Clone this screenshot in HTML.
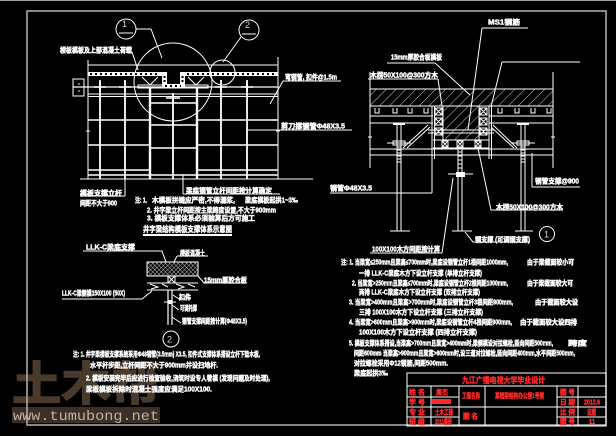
<!DOCTYPE html>
<html><head><meta charset="utf-8">
<style>
html,body{margin:0;padding:0;background:#000;}
svg{display:block;}
.t{fill:#fff;stroke:#fff;stroke-width:0.45px;font-size:7px;font-family:"Liberation Sans","Noto Sans CJK SC",sans-serif;font-weight:bold;}
.r{fill:#ff2a2a;stroke:#ff2a2a;stroke-width:0.4px;font-size:7px;font-family:"Liberation Sans","Noto Sans CJK SC",sans-serif;font-weight:bold;}
.n{fill:#ddd;font-size:9px;font-family:"Liberation Sans",sans-serif;}
</style></head><body>
<svg width="616" height="436" viewBox="0 0 616 436" xmlns="http://www.w3.org/2000/svg">
<defs>
<pattern id="hs" width="7" height="7" patternUnits="userSpaceOnUse" patternTransform="rotate(45)">
<line x1="0" y1="0" x2="0" y2="7" stroke="#fff" stroke-width="0.8"/>
</pattern>
<pattern id="hx" width="3" height="3" patternUnits="userSpaceOnUse" patternTransform="rotate(45)">
<line x1="0" y1="0" x2="0" y2="3" stroke="#fff" stroke-width="0.7"/>
<line x1="0" y1="0" x2="3" y2="0" stroke="#fff" stroke-width="0.7"/>
</pattern>
</defs>
<rect width="616" height="436" fill="#000"/>

<!-- watermark -->
<text x="12" y="400" font-size="46" textLength="148" lengthAdjust="spacingAndGlyphs" fill="#4a3a2c" stroke="#4a3a2c" stroke-width="1.5" font-family="Noto Sans CJK SC,sans-serif" font-weight="bold">土木帮</text>
<rect x="12" y="407" width="148" height="16" fill="#3c2f25"/>
<text x="13" y="420" font-size="14" textLength="146" lengthAdjust="spacingAndGlyphs" fill="#bdb3a8" font-family="Liberation Mono,monospace">www.tumubong.net</text>

<!-- frames -->
<rect x="0" y="0" width="616" height="1" fill="#a0a0a0"/>
<rect x="27" y="11" width="579" height="414" fill="none" stroke="#b4b4b4" stroke-width="1.5"/>

<!-- ============ LEFT ELEVATION ============ -->
<g stroke="#fff" fill="none" stroke-width="1">
<circle cx="126" cy="29" r="10"/>
<line x1="119" y1="33" x2="133" y2="33"/>
<circle cx="249" cy="30" r="10"/>
<line x1="242" y1="34" x2="256" y2="34"/>
<polyline points="136,29 151,29 162,58"/>
<line x1="241" y1="37" x2="223" y2="62"/>
<circle cx="173" cy="82" r="39"/>
<circle cx="222.5" cy="72.5" r="12.5"/>
<line x1="132" y1="52" x2="138" y2="70"/>
<path d="M88 65H278M88 60V179M278 57V179"/>
<rect x="73" y="79" width="11" height="17"/>
<path d="M73 87H278" stroke-width="1.2"/>
<rect x="138" y="85" width="70" height="3"/>
<path d="M88 94H278M88 96.5H278"/>
<path d="M142 77L150 85L158 77M188 77L196 85L204 77"/>
<path d="M100 80V179M125 80V179M221 80V179M247 80V179M173 96V179" stroke-width="1.8"/>
<path d="M150 88V179M197 88V179" stroke-width="2.4"/>
<path d="M94 87H106M119 87H131M215 87H227M241 87H253M166 98H180" stroke-width="1.5"/>
<path d="M100 83V91M125 83V91M221 83V91M247 83V91M173 93V103" stroke-width="2"/>
<path d="M88 120H150M197 120H278M88 145H150M197 145H278M88 170H150M197 170H278M88 175H278" stroke-width="1.6"/>
<path d="M150 103H197M150 125H197M150 148H197" stroke-width="1.6"/>
<path d="M80 179H313"/>
<path d="M86 131H90M88 129V133M276 131H280M278 129V133"/>
<path d="M283 81H341M283 81L270 104M247 130H352"/>
<path d="M80 196H125M125 179V196M183 194H280M183 175V194"/>
</g>
<!-- formwork band -->
<g fill="#fff">
<rect x="88" y="72" width="74" height="4"/>
<rect x="185" y="72" width="93" height="4"/>
<rect x="162" y="72" width="5" height="16"/>
<rect x="180" y="72" width="5" height="16"/>
<rect x="162" y="84" width="23" height="4"/>
<circle cx="79" cy="84" r="0.8"/><circle cx="79" cy="91" r="0.8"/>
</g>
<g stroke="#000" stroke-width="2" fill="none">
<path d="M90 74H160M187 74H276M165 86H181" stroke-dasharray="2 3"/>
<path d="M164.5 76V84M182.5 76V84" stroke-dasharray="2 2"/>
</g>
<text class="n" x="122" y="27">1</text>
<text class="n" x="245" y="28">2</text>

<text class="t" x="60" y="52.5" textLength="72" lengthAdjust="spacingAndGlyphs">楼板模板及上部混凝土荷载</text>
<text class="t" x="285" y="79.5" textLength="52" lengthAdjust="spacingAndGlyphs">弯钢管, 扣件@1.5m</text>
<text class="t" x="281" y="128.5" textLength="64" lengthAdjust="spacingAndGlyphs">剪刀撑钢管Φ48X3.5</text>
<text class="t" x="80" y="195.5" textLength="42" lengthAdjust="spacingAndGlyphs">模板支撑立杆</text>
<text class="t" x="80" y="205.5" textLength="37" lengthAdjust="spacingAndGlyphs">间距不大于900</text>
<text class="t" x="186" y="193" textLength="86" lengthAdjust="spacingAndGlyphs">梁底钢管立杆间距按计算确定</text>
<text class="t" x="135" y="202.5" textLength="12" lengthAdjust="spacingAndGlyphs">注: 1.</text>
<text class="t" x="152" y="202.5" textLength="83" lengthAdjust="spacingAndGlyphs">木模板拼缝应严密,不得漏浆,</text>
<text class="t" x="245" y="202.5" textLength="53" lengthAdjust="spacingAndGlyphs">梁底模板起拱1~3‰</text>
<text class="t" x="147" y="212.5" textLength="129" lengthAdjust="spacingAndGlyphs">2. 井字梁立杆间距按主梁跨度设置,不大于900mm</text>
<text class="t" x="147" y="220.5" textLength="108" lengthAdjust="spacingAndGlyphs">3. 模板支撑体系必须验算后方可施工</text>
<text class="t" x="143" y="232" textLength="89" lengthAdjust="spacingAndGlyphs" style="font-size:8px">井字梁结构模板支撑体系示意图</text>
<rect x="143" y="234" width="89" height="2" fill="#fff"/>

<!-- ============ DETAIL 2 ============ -->
<g stroke="#fff" fill="none" stroke-width="1">
<rect x="147" y="262" width="51" height="14" fill="url(#hx)"/>
<rect x="168" y="276" width="7" height="7"/>
<path d="M168 276L175 283M175 276L168 283"/>
<path d="M147 283H198M147 290H198"/>
<path d="M150 284L158 287L151 289M162 284L168 287M176 284L184 287L178 289M188 284L195 287"/>
<path d="M168 290V325M172 290V325" stroke-width="1.2"/>
<path d="M164 302H176"/>
<path d="M83 251H162L166 262M177 256H208M177 256L174 262M198 276L204 283H247M62 299H142L152 291"/>
<path d="M173 295L179 299H191M172 305L179 310M172 317L181 323"/>
<circle cx="171" cy="339" r="8"/>
</g>
<rect x="168" y="300" width="4" height="4" fill="#fff"/>
<text class="n" x="167" y="342.5">2</text>
<text class="t" x="86" y="249.5" textLength="49" lengthAdjust="spacingAndGlyphs">LLK-C梁底支撑</text>
<text class="t" x="180" y="255.5" textLength="25" lengthAdjust="spacingAndGlyphs">楼板混凝土</text>
<text class="t" x="204" y="282.5" textLength="43" lengthAdjust="spacingAndGlyphs">15mm厚胶合板</text>
<text class="t" x="62" y="295.5" textLength="63" lengthAdjust="spacingAndGlyphs">LLK-C梁侧模150X100 (50X)</text>
<text class="t" x="179" y="299.5" textLength="12" lengthAdjust="spacingAndGlyphs">扣件</text>
<text class="t" x="180" y="310.5" textLength="17" lengthAdjust="spacingAndGlyphs">可调托撑</text>
<text class="t" x="182" y="323.5" textLength="65" lengthAdjust="spacingAndGlyphs">钢管支撑间距按计算(Φ48X3.5)</text>

<text class="t" x="73" y="356.5" textLength="187" lengthAdjust="spacingAndGlyphs">注: 1. 井字梁楼板支撑系统采用Φ48钢管(3.5mm) X3.5, 扣件式支撑体系搭设立杆下垫木板,</text>
<text class="t" x="90" y="367.5" textLength="128" lengthAdjust="spacingAndGlyphs">水平杆步距,立杆间距不大于900mm并设扫地杆.</text>
<text class="t" x="86" y="380.5" textLength="184" lengthAdjust="spacingAndGlyphs">2. 模板安装完毕后应进行检查验收,浇筑时设专人看模 (发现问题及时处理),</text>
<text class="t" x="86" y="391.5" textLength="126" lengthAdjust="spacingAndGlyphs">梁板模板拆除时混凝土强度应满足100X100.</text>

<!-- ============ RIGHT SECTION ============ -->
<g stroke="#fff" fill="none" stroke-width="1">
<rect x="370" y="89" width="183" height="17" fill="url(#hs)"/>
<rect x="443" y="106" width="36" height="34" fill="url(#hs)"/>
<path d="M370 116H433M489 116H553M370 123H433M489 123H553"/>
<path d="M375 108V113H379V108M393 108V113H397V108M408 108V113H412V108M424 108V113H428V108M498 108V113H502V108M515 108V113H519V108M531 108V113H535V108M547 108V113H551V108"/>
<path d="M370 72V168M553 72V168M368 137H372M551 137H555"/>
<path d="M432 106V159M434.5 106V159M489 106V159M491.5 106V159"/>
<path d="M435 108H442V115H435ZM435 108L442 115M442 108L435 115M435 118H442V125H435ZM435 118L442 125M442 118L435 125M435 128H442V135H435ZM435 128L442 135M442 128L435 135"/>
<path d="M480 108H487V115H480ZM480 108L487 115M487 108L480 115M480 118H487V125H480ZM480 118L487 125M487 118L480 125M480 128H487V135H480ZM480 128L487 135M487 128L480 135"/>
<path d="M428 130H494M428 133H494"/>
<path d="M433 140H489M433 148H489"/>
<path d="M442 141H448V147H442ZM442 141L448 147M448 141L442 147M457 141H463V147H457ZM457 141L463 147M463 141L457 147M475 141H481V147H475ZM475 141L481 147M481 141L475 147"/>
<path d="M370 149H553M370 155H553"/>
<!-- props -->
<path d="M393 124H405M517 124H529" stroke-width="2"/>
<path d="M397 125V231M401 125V231M521 125V231M525 125V231"/>
<rect x="393" y="141" width="12" height="4"/>
<rect x="517" y="141" width="12" height="4"/>
<path d="M387 143H411M511 143H535"/>
<path d="M397 147H401M397 150H401M397 153H401M397 156H401M397 159H401M397 162H401M521 147H525M521 150H525M521 153H525M521 156H525M521 159H525M521 162H525"/>
<path d="M458 148V172M462 148V172M458 152H462M458 156H462M458 160H462M458 164H462M458 168H462"/>
<path d="M448 174H473"/>
<path d="M458 177V231M462 177V231"/>
<path d="M390 231H410M452 231H472M515 231H533"/>
<path d="M403 148L428 125M407 148L430 127M493 125L517 148M491 127L514 148"/>
<!-- leaders -->
<path d="M482 28H528M482 28L468 130"/>
<path d="M387 63H435M435 63L470 95"/>
<path d="M368 79H438M438 79L442 106"/>
<path d="M502 62H580M502 62L491 107"/>
<path d="M330 193H432M432 193V148"/>
<path d="M532 187H580M532 187V153"/>
<path d="M478 148L491 210H563"/>
<path d="M453 178L442 253M370 253H442"/>
<path d="M465 232L473 242H530"/>
<circle cx="547" cy="234" r="7.5"/>
</g>
<rect x="456" y="172" width="9" height="5" fill="#fff"/>
<text class="n" x="544" y="237.5">1</text>
<text class="t" x="488" y="24.5" textLength="32" lengthAdjust="spacingAndGlyphs">MS1钢筋</text>
<text class="t" x="391" y="59.5" textLength="51" lengthAdjust="spacingAndGlyphs">15mm厚胶合板模板</text>
<text class="t" x="370" y="77.5" textLength="68" lengthAdjust="spacingAndGlyphs">木楞50X100@300方木</text>
<text class="t" x="330" y="190.5" textLength="42" lengthAdjust="spacingAndGlyphs">钢管Φ48X3.5</text>
<text class="t" x="535" y="183.5" textLength="44" lengthAdjust="spacingAndGlyphs">钢管支撑@900</text>
<text class="t" x="496" y="209.5" textLength="67" lengthAdjust="spacingAndGlyphs">木楞50X100@300方木</text>
<text class="t" x="475" y="242" textLength="55" lengthAdjust="spacingAndGlyphs">钢支撑 (可调钢支撑)</text>
<text class="t" x="372" y="251.5" textLength="68" lengthAdjust="spacingAndGlyphs">100X100木方间距按计算</text>

<!-- right notes -->
<text class="t" x="341" y="264.5" textLength="167" lengthAdjust="spacingAndGlyphs">注: 1. 当梁宽≤250mm且梁高≤700mm时,梁底设钢管立杆1根间距1000mm,</text>
<text class="t" x="527" y="264.5" textLength="47" lengthAdjust="spacingAndGlyphs">由于梁截面较小可</text>
<text class="t" x="359" y="275.5" textLength="123" lengthAdjust="spacingAndGlyphs">一排 LLK-C梁底木方下设立杆支撑 (单排立杆支撑)</text>
<text class="t" x="352" y="285.5" textLength="156" lengthAdjust="spacingAndGlyphs">2. 当梁宽>250mm且梁高≤700mm时,梁底设钢管立杆2根间距1000mm,</text>
<text class="t" x="527" y="285.5" textLength="46" lengthAdjust="spacingAndGlyphs">由于梁截面较大可</text>
<text class="t" x="359" y="294.5" textLength="121" lengthAdjust="spacingAndGlyphs">两排 LLK-C梁底木方下设立杆支撑 (双排立杆支撑)</text>
<text class="t" x="349" y="304.5" textLength="164" lengthAdjust="spacingAndGlyphs">3. 当梁宽>400mm且梁高>700mm时,梁底设钢管立杆3根间距900mm,</text>
<text class="t" x="535" y="304.5" textLength="43" lengthAdjust="spacingAndGlyphs">由于截面较大设</text>
<text class="t" x="359" y="314.5" textLength="124" lengthAdjust="spacingAndGlyphs">三排 100X100木方下设立杆支撑 (三排立杆支撑)</text>
<text class="t" x="349" y="324.5" textLength="163" lengthAdjust="spacingAndGlyphs">4. 当梁宽>600mm且梁高>900mm时,梁底设钢管立杆4根间距900mm,</text>
<text class="t" x="520" y="324.5" textLength="57" lengthAdjust="spacingAndGlyphs">由于截面较大设四排</text>
<text class="t" x="359" y="334.5" textLength="118" lengthAdjust="spacingAndGlyphs">100X100木方下设立杆支撑 (四排立杆支撑)</text>
<text class="t" x="349" y="345.5" textLength="204" lengthAdjust="spacingAndGlyphs">5. 模板支撑体系搭设,当梁高>700mm且梁宽>400mm时,梁侧模设对拉螺栓,竖向间距500mm,</text>
<text class="t" x="568" y="345.5" textLength="19" lengthAdjust="spacingAndGlyphs">跨度</text>
<text class="t" x="354" y="355.5" textLength="221" lengthAdjust="spacingAndGlyphs">间距600mm 当梁高>900mm且梁宽>600mm时,设三道对拉螺栓,竖向间距400mm,水平间距500mm,</text>
<text class="t" x="354" y="365.5" textLength="94" lengthAdjust="spacingAndGlyphs">对拉螺栓采用Φ12钢筋,间距500mm.</text>
<text class="t" x="354" y="375.5" textLength="34" lengthAdjust="spacingAndGlyphs">梁底起拱3‰</text>

<!-- ============ TITLE BLOCK ============ -->
<g stroke="#fff" fill="none" stroke-width="1">
<rect x="407" y="373" width="199" height="53"/>
<path d="M407 386H606M407 397H459M557 397H606M407 407H606M407 417H459M557 417H606"/>
<path d="M431 386V426M459 386V426M485 386V426M557 386V426M578 386V426"/>
</g>
<text class="r" x="462" y="383" textLength="83" lengthAdjust="spacingAndGlyphs" style="font-size:8px">九江广播电视大学毕业设计</text>
<text class="r" x="409" y="394.5" textLength="16" lengthAdjust="spacingAndGlyphs">姓 名</text>
<text class="r" x="409" y="404.5" textLength="16" lengthAdjust="spacingAndGlyphs">学 号</text>
<text class="r" x="409" y="414.5" textLength="16" lengthAdjust="spacingAndGlyphs">专 业</text>
<text class="r" x="409" y="424" textLength="16" lengthAdjust="spacingAndGlyphs">班 级</text>
<text class="r" x="436" y="394.5" textLength="12" lengthAdjust="spacingAndGlyphs">周杰</text>
<rect x="432" y="399" width="19" height="5" fill="#ff2a2a"/>
<text class="r" x="435" y="414.5" textLength="18" lengthAdjust="spacingAndGlyphs">土木工程</text>
<text class="r" x="435" y="424" textLength="17" lengthAdjust="spacingAndGlyphs">2011春班</text>
<text class="r" x="462" y="398" textLength="18" lengthAdjust="spacingAndGlyphs">工程名称</text>
<text class="r" x="463" y="418.5" textLength="15" lengthAdjust="spacingAndGlyphs">图 名</text>
<text class="r" x="495" y="398" textLength="49" lengthAdjust="spacingAndGlyphs">某框架结构办公楼1号楼</text>
<text class="r" x="560" y="394.5" textLength="15" lengthAdjust="spacingAndGlyphs">图 号</text>
<text class="r" x="560" y="404.5" textLength="15" lengthAdjust="spacingAndGlyphs">日 期</text>
<text class="r" x="560" y="414.5" textLength="15" lengthAdjust="spacingAndGlyphs">比 例</text>
<text class="r" x="560" y="424" textLength="15" lengthAdjust="spacingAndGlyphs">图 号</text>
<text class="r" x="584" y="404.5" textLength="16" lengthAdjust="spacingAndGlyphs">2013.6</text>
<text class="r" x="587" y="414.5" textLength="9" lengthAdjust="spacingAndGlyphs">见图</text>
<text class="r" x="589" y="424" textLength="6" lengthAdjust="spacingAndGlyphs">11</text>
</svg>
</body></html>
